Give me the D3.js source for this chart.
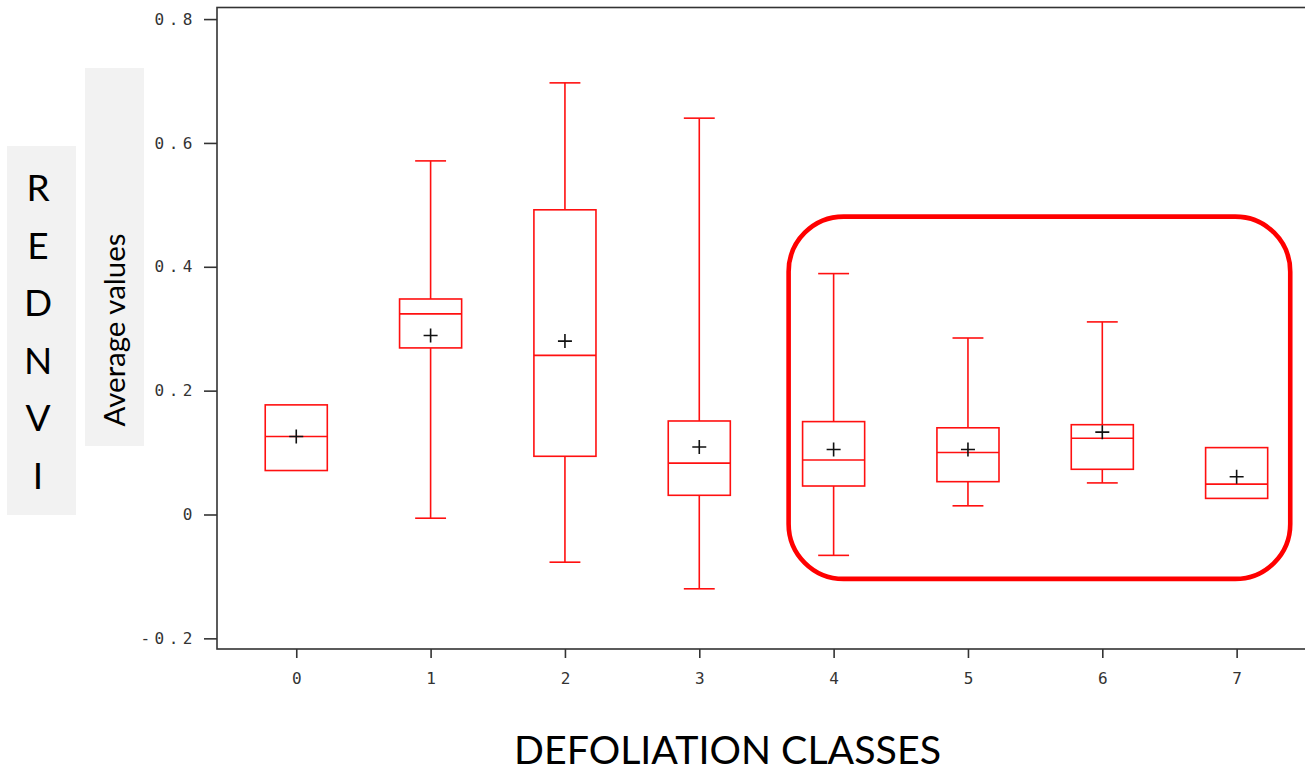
<!DOCTYPE html>
<html>
<head>
<meta charset="utf-8">
<script src="https://cdn.jsdelivr.net/npm/d3@7"></script>
<style>
  body { margin: 0; background: #fff; }
  svg { display: block; }
  .tick text { font-family: "DejaVu Sans Mono", monospace; font-size: 16px; fill: #333; }
  .label { font-family: Lato, "Open Sans", sans-serif; fill: #000; }
</style>
</head>
<body>
<svg id="chart" width="1305" height="774"></svg>
<script>
// defoliation classes and box statistics (REDNVI)
const classes = [0, 1, 2, 3, 4, 5, 6, 7];
const whiskerLow  = [0.071, -0.006, -0.077, -0.120, -0.066, 0.014, 0.051, 0.026];
const q1          = [0.071, 0.269, 0.094, 0.031, 0.046, 0.053, 0.073, 0.026];
const median      = [0.126, 0.324, 0.257, 0.083, 0.088, 0.100, 0.123, 0.049];
const q3          = [0.177, 0.348, 0.492, 0.151, 0.150, 0.140, 0.145, 0.108];
const whiskerHigh = [0.177, 0.571, 0.697, 0.640, 0.389, 0.285, 0.311, 0.108];
const means       = [0.126, 0.289, 0.280, 0.109, 0.105, 0.105, 0.133, 0.061];

const yTicks = [-0.2, 0, 0.2, 0.4, 0.6, 0.8];
const yTickLabels = ["-0.2", "0", "0.2", "0.4", "0.6", "0.8"];

// highlighted group of classes (data units)
const highlightX = [3.665, 7.399];
const highlightY = [-0.104, 0.481];

const svg = d3.select("#chart");

const x = d3.scaleLinear().domain([-0.59, 7.59]).range([217, 1315.9]);
const y = d3.scaleLinear().domain([-0.2172, 0.8187]).range([649, 7.5]);

const unit = x(1) - x(0);
const boxHalf = unit * 0.231;
const capHalf = unit * 0.115;

// frame
svg.append("rect")
  .attr("x", x.range()[0]).attr("y", y.range()[1])
  .attr("width", x.range()[1] - x.range()[0])
  .attr("height", y.range()[0] - y.range()[1])
  .attr("fill", "none").attr("stroke", "#333").attr("stroke-width", 1.6);

// axes
const yAxis = svg.append("g")
  .attr("transform", `translate(${x.range()[0]},0)`)
  .call(d3.axisLeft(y).tickValues(yTicks).tickSize(13).tickPadding(7)
    .tickFormat((d, i) => yTickLabels[i]));
yAxis.select(".domain").remove();
yAxis.selectAll(".tick line").attr("stroke", "#333").attr("stroke-width", 1.6);
yAxis.selectAll(".tick text").attr("letter-spacing", "4.5px");

const xAxis = svg.append("g")
  .attr("transform", `translate(0,${y.range()[0]})`)
  .call(d3.axisBottom(x).tickValues(classes).tickSize(9).tickPadding(15)
    .tickFormat(d3.format("d")));
xAxis.select(".domain").remove();
xAxis.selectAll(".tick line").attr("stroke", "#333").attr("stroke-width", 1.6);

// boxes
const red = "#ff1010";
const boxes = svg.append("g")
  .selectAll("g")
  .data(classes)
  .join("g")
  .attr("fill", "none")
  .attr("stroke", red)
  .attr("stroke-width", 1.6);

boxes.each(function(c, i) {
  const g = d3.select(this);
  const cx = x(c);
  if (whiskerHigh[i] > q3[i]) {
    g.append("line").attr("x1", cx).attr("x2", cx).attr("y1", y(q3[i])).attr("y2", y(whiskerHigh[i]));
    g.append("line").attr("x1", cx - capHalf).attr("x2", cx + capHalf).attr("y1", y(whiskerHigh[i])).attr("y2", y(whiskerHigh[i]));
  }
  if (whiskerLow[i] < q1[i]) {
    g.append("line").attr("x1", cx).attr("x2", cx).attr("y1", y(q1[i])).attr("y2", y(whiskerLow[i]));
    g.append("line").attr("x1", cx - capHalf).attr("x2", cx + capHalf).attr("y1", y(whiskerLow[i])).attr("y2", y(whiskerLow[i]));
  }
  g.append("rect")
    .attr("x", cx - boxHalf).attr("width", boxHalf * 2)
    .attr("y", y(q3[i])).attr("height", y(q1[i]) - y(q3[i]));
  g.append("line").attr("x1", cx - boxHalf).attr("x2", cx + boxHalf).attr("y1", y(median[i])).attr("y2", y(median[i]));
});

// mean markers
const plus = 7;
svg.append("g")
  .selectAll("path")
  .data(classes)
  .join("path")
  .attr("d", (c, i) => {
    const px = x(c), py = y(means[i]);
    return `M${px - plus},${py}H${px + plus}M${px},${py - plus}V${py + plus}`;
  })
  .attr("stroke", "#111").attr("stroke-width", 1.6).attr("fill", "none");

// highlight rounded rectangle
svg.append("rect")
  .attr("x", x(highlightX[0])).attr("y", y(highlightY[1]))
  .attr("width", x(highlightX[1]) - x(highlightX[0]))
  .attr("height", y(highlightY[0]) - y(highlightY[1]))
  .attr("rx", 55).attr("ry", 55)
  .attr("fill", "none").attr("stroke", "#ff0000").attr("stroke-width", 4.6);

// y titles in grey boxes
svg.append("rect").attr("x", 7).attr("y", 146).attr("width", 69).attr("height", 369).attr("fill", "#f2f2f2");
svg.append("rect").attr("x", 85).attr("y", 68).attr("width", 59).attr("height", 378).attr("fill", "#f2f2f2");

const letters = "REDNVI".split("");
svg.append("g")
  .selectAll("text")
  .data(letters)
  .join("text")
  .attr("class", "label")
  .attr("x", 38)
  .attr("y", (d, i) => 201 + i * 57.5)
  .attr("text-anchor", "middle")
  .attr("font-size", 37)
  .text(d => d);

svg.append("text")
  .attr("class", "label")
  .attr("transform", "translate(125,330) rotate(-90)")
  .attr("text-anchor", "middle")
  .attr("font-size", 28)
  .attr("textLength", 193)
  .attr("lengthAdjust", "spacingAndGlyphs")
  .text("Average values");

svg.append("text")
  .attr("class", "label")
  .attr("x", 727.5)
  .attr("y", 764)
  .attr("text-anchor", "middle")
  .attr("font-size", 38)
  .attr("textLength", 427)
  .attr("lengthAdjust", "spacingAndGlyphs")
  .text("DEFOLIATION CLASSES");
</script>
</body>
</html>
